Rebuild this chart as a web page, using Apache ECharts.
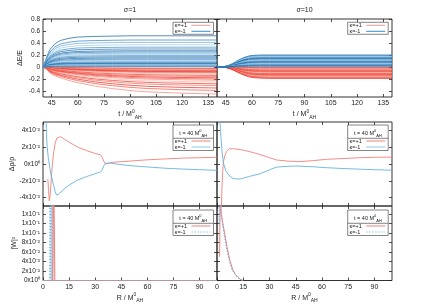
<!DOCTYPE html>
<html><head><meta charset="utf-8">
<script src="https://cdn.jsdelivr.net/npm/echarts@6/dist/echarts.min.js"></script>
<style>html,body{margin:0;padding:0;background:#fff}#c{width:436px;height:305px}</style>
</head><body><div id="c"></div>
<script>
// ---------- tick values / labels ----------
const tTicks = [45, 60, 75, 90, 105, 120, 135];
const rTicks = [0, 15, 30, 45, 60, 75, 90];
const eTicks = [-0.4, -0.2, 0, 0.2, 0.4, 0.6, 0.8];
const eTickLabels = ['-0.4', '-0.2', '0', '0.2', '0.4', '0.6', '0.8'];
const rhoTicks = [-0.04, -0.02, 0, 0.02, 0.04];
const rhoTickLabels = ['-4x10⁻²', '-2x10⁻²', '0x10⁰', '2x10⁻²', '4x10⁻²'];
const wTicks = [0, 0.02, 0.04, 0.06, 0.08, 0.10, 0.12, 0.14];
const wTickLabels = ['0x10⁰', '2x10⁻²', '4x10⁻²', '6x10⁻²', '8x10⁻²', '1x10⁻¹', '1x10⁻¹', '1x10⁻¹'];
const panelTitles = ['σ=1', 'σ=10'];
const legendNames = ['κ=+1', 'κ=-1'];

// ---------- top panels: ΔE/E vs t ----------
// sigma = 1
const timesS1 = [40, 41, 42, 43, 44, 45, 47, 50, 55, 60, 70, 80, 90, 100, 120, 140];
const profBlueS1 = [0.02, 0.14, 0.30, 0.44, 0.55, 0.63, 0.75, 0.85, 0.92, 0.96, 0.98, 0.99, 1, 1, 1, 1];
const profRedS1 = [0, 0.02, 0.08, 0.16, 0.22, 0.27, 0.33, 0.40, 0.50, 0.58, 0.71, 0.80, 0.87, 0.92, 0.97, 1];
const finalBlueS1 = [0.52, 0.45, 0.41, 0.37, 0.33, 0.30, 0.27, 0.25, 0.23, 0.21, 0.19, 0.17, 0.15, 0.13, 0.115, 0.10, 0.085, 0.07, 0.06, 0.05, 0.04, 0.03, 0.02, 0.01];
const finalRedS1 = [-0.02, -0.03, -0.04, -0.05, -0.06, -0.07, -0.08, -0.09, -0.10, -0.12, -0.14, -0.16, -0.18, -0.20, -0.22, -0.25, -0.28, -0.31, -0.35, -0.39, -0.45];
// sigma = 10
const timesS10 = [40, 44, 46, 48, 50, 52, 54, 56, 58, 60, 65, 70, 140];
const profBlueS10 = [0, 0.03, 0.10, 0.22, 0.38, 0.55, 0.70, 0.82, 0.91, 0.96, 1, 1, 1];
const profRedS10 = [0, 0.02, 0.08, 0.18, 0.32, 0.48, 0.62, 0.75, 0.85, 0.92, 0.98, 1, 1];
const finalBlueS10 = [0.20, 0.19, 0.18, 0.17, 0.16, 0.15, 0.14, 0.13, 0.12, 0.11, 0.10, 0.09, 0.08, 0.07, 0.06, 0.05, 0.04, 0.03, 0.02, 0.01];
const finalRedS10 = [-0.01, -0.02, -0.03, -0.04, -0.05, -0.06, -0.07, -0.08, -0.09, -0.10, -0.11, -0.12, -0.13, -0.14, -0.15, -0.16, -0.17, -0.18, -0.19];

// ---------- middle panels: Δρ/ρ vs R at t = 40 ----------
const rhoRedS1 = [[2.8,-0.018],[3.2,-0.032],[3.6,-0.044],[4,-0.04],[4.5,-0.026],[5,-0.011],[5.5,0.002],[6,0.012],[7,0.025],[8,0.031],[9,0.033],[10,0.0325],[12,0.030],[15,0.026],[20,0.020],[25,0.016],[30,0.0125],[33,0.011],[34,0.008],[35,0.003],[36,0.0],[37,0.0008],[40,0.002],[50,0.0035],[60,0.005],[70,0.006],[80,0.007],[90,0.0075],[100,0.008]];
const rhoBlueS1 = [[1.7,0.06],[2.0,0.035],[2.4,0.02],[3,0.008],[3.6,0],[4.5,-0.012],[5.9,-0.024],[7,-0.033],[7.8,-0.037],[9,-0.036],[10,-0.034],[12,-0.030],[15,-0.025],[20,-0.019],[25,-0.015],[30,-0.0115],[33,-0.0095],[34,-0.007],[35,-0.002],[36,0.001],[37,0.0018],[39,0.001],[42,0],[50,-0.002],[60,-0.0035],[70,-0.005],[80,-0.006],[90,-0.0068],[100,-0.0075]];
const rhoRedS10 = [[2.4,-0.06],[2.8,-0.03],[3.2,-0.01],[3.6,0.002],[4.5,0.010],[5.5,0.015],[7,0.018],[9,0.0182],[12,0.0175],[15,0.0165],[20,0.014],[25,0.011],[30,0.0075],[34,0.0048],[40,0.0035],[47,0.0028],[55,0.004],[62,0.0055],[70,0.0063],[82,0.0075],[90,0.008],[100,0.0082]];
const rhoBlueS10 = [[1.5,0.06],[2,0.04],[2.5,0.025],[3,0.012],[3.8,0],[5,-0.008],[7,-0.014],[9,-0.017],[11.4,-0.018],[14,-0.0175],[18,-0.015],[24,-0.012],[30,-0.007],[34,-0.0037],[40,-0.0028],[45,-0.0024],[55,-0.0033],[62,-0.0043],[70,-0.0052],[82,-0.0062],[90,-0.0068],[100,-0.0074]];

// ---------- bottom panels: |W|^2 vs R at t = 40 ----------
const wRedS1 = [[0,0],[5.5,0],[5.7,0.08],[5.9,0.3],[6.4,0.3],[6.6,0.08],[6.8,0],[100,0]];
const wRedS1b = [[0,0],[5.0,0],[5.2,0.3],[6.0,0.3],[6.2,0],[100,0]];
const wBlueS1 = [[0,0],[3.8,0],[4.0,0.3],[4.3,0.3],[4.5,0],[4.8,0],[5.0,0.3],[5.2,0.3],[5.4,0],[100,0]];
const wRedS10 = [[1.5,0.05],[1.65,0.12],[1.8,0.16],[2.0,0.17],[2.5,0.14],[3.1,0.125],[4.4,0.099],[5.7,0.071],[7.3,0.043],[9.1,0.022],[10.5,0.013],[12,0.0067],[13.5,0.002],[15,0]];
const wBlueS10 = [[1.2,0.12],[1.4,0.17],[1.8,0.16],[2.3,0.14],[2.9,0.125],[4.0,0.099],[5.3,0.071],[6.9,0.043],[8.7,0.022],[10.2,0.013],[11.7,0.0067],[13.2,0.002],[14.7,0]];

// ---------- styling ----------
const FONT = 'Liberation Sans';
const bluePal = ['#0d5c9e', '#2f7fbd', '#6aa9d8', '#9ccbe8', '#3f8fc9', '#1c6dad'];
const redPal = ['#e3211c', '#f04a3a', '#f78170', '#fab6a9', '#ec3427', '#f56452'];
const RED_LINE = '#f2807a', BLUE_LINE = '#66b2df';

const grids = [
  {left: 43, top: 19, width: 174, height: 78},
  {left: 217, top: 19, width: 175, height: 78},
  {left: 43, top: 122, width: 174, height: 84},
  {left: 217, top: 122, width: 175, height: 84},
  {left: 43, top: 206, width: 174, height: 74.5},
  {left: 217, top: 206, width: 175, height: 74.5}
].map(g => Object.assign({show: true, borderColor: '#333', borderWidth: 1, backgroundColor: 'transparent'}, g));

const richName = {
  a: {fontSize: 7, fontFamily: FONT, color: '#222', lineHeight: 11},
  s: {fontSize: 5, fontFamily: FONT, color: '#222', verticalAlign: 'top', lineHeight: 11},
  b: {fontSize: 5, fontFamily: FONT, color: '#222', verticalAlign: 'bottom', lineHeight: 11}
};
function lab(ticks, labels) {
  return v => { for (let i = 0; i < ticks.length; i++) if (Math.abs(ticks[i] - v) < 1e-9) return labels[i]; return ''; };
}
const xAxes = [], yAxes = [];
function addAxes(gi, xr, xt, showX, xName, yr, yt, ytl, showY, yName, yGap) {
  ['bottom', 'top'].forEach((pos, k) => {
    xAxes.push({
      type: 'value', gridIndex: gi, min: xr[0], max: xr[1], position: pos,
      axisLine: {show: false, onZero: false}, splitLine: {show: false},
      axisTick: {show: true, inside: true, length: 3, customValues: xt, lineStyle: {color: '#222', width: 0.8}},
      axisLabel: {show: showX && k === 0, customValues: xt, margin: 3, fontSize: 7, fontFamily: FONT, color: '#222'},
      name: (k === 0 && xName) ? xName : '', nameLocation: 'middle', nameGap: 12,
      nameTextStyle: {rich: richName}
    });
  });
  ['left', 'right'].forEach((pos, k) => {
    yAxes.push({
      type: 'value', gridIndex: gi, min: yr[0], max: yr[1], position: pos,
      axisLine: {show: false, onZero: false}, splitLine: {show: false},
      axisTick: {show: true, inside: true, length: 3, customValues: yt, lineStyle: {color: '#222', width: 0.8}},
      axisLabel: {show: showY && k === 0, customValues: yt, margin: 3, fontSize: 6.5, fontFamily: FONT, color: '#222', formatter: lab(yt, ytl)},
      name: (k === 0 && yName) ? yName : '', nameLocation: 'middle', nameRotate: 90, nameGap: yGap || 20,
      nameTextStyle: {fontSize: 7, fontFamily: FONT, color: '#222'}
    });
  });
}
const tName = '{a|t / M}{s|0}{b|AH}';
const rName = '{a|R / M}{s|0}{b|AH}';
const wMax = 0.157;
addAxes(0, [40, 140], tTicks, true, tName, [-0.5, 0.8], eTicks, eTickLabels, true, 'ΔE/E', 19);
addAxes(1, [40, 140], tTicks, true, tName, [-0.5, 0.8], eTicks, eTickLabels, false, '', 0);
addAxes(2, [0, 100], rTicks, false, '', [-0.05, 0.05], rhoTicks, rhoTickLabels, true, 'Δρ/ρ', 27);
addAxes(3, [0, 100], rTicks, false, '', [-0.05, 0.05], rhoTicks, rhoTickLabels, false, '', 0);
addAxes(4, [0, 100], rTicks, true, rName, [0, wMax], wTicks, wTickLabels, true, '|W|²', 23);
addAxes(5, [0, 100], rTicks, true, rName, [0, wMax], wTicks, wTickLabels, false, '', 0);

const series = [];
function line(gi, name, data, color, width, type) {
  series.push({
    type: 'line', name, xAxisIndex: 2 * gi, yAxisIndex: 2 * gi, data,
    showSymbol: false, symbol: 'none', smooth: false, clip: true, silent: true,
    lineStyle: {color, width: width || 0.8, type: type || 'solid'}, animation: false
  });
}
function fan(gi, times, prof, finals, pal, name) {
  finals.forEach((f, i) => line(gi, name, times.map((t, k) => [t, f * prof[k]]), pal[i % pal.length], 0.7));
}
fan(0, timesS1, profRedS1, finalRedS1, redPal, legendNames[0]);
fan(0, timesS1, profBlueS1, finalBlueS1, bluePal, legendNames[1]);
fan(1, timesS10, profRedS10, finalRedS10, redPal, legendNames[0]);
fan(1, timesS10, profBlueS10, finalBlueS10, bluePal, legendNames[1]);
line(2, legendNames[0], rhoRedS1, RED_LINE, 0.9);
line(2, legendNames[1], rhoBlueS1, BLUE_LINE, 0.9);
line(3, legendNames[0], rhoRedS10, RED_LINE, 0.9);
line(3, legendNames[1], rhoBlueS10, BLUE_LINE, 0.9);
line(4, legendNames[0], wRedS1b, '#f8c0ba', 0.9);
line(4, legendNames[0], wRedS1, RED_LINE, 1.1);
line(4, legendNames[1], wBlueS1, BLUE_LINE, 0.9, [1.5, 1.5]);
line(5, legendNames[0], wRedS10, RED_LINE, 1);
line(5, legendNames[1], wBlueS10, BLUE_LINE, 1, [1.5, 1.5]);

// ---------- legends (decoration) ----------
const graphic = [];
const txt = (x, y, text, extra) => Object.assign({type: 'text', x, y, silent: true,
  style: Object.assign({text, fontSize: 5.5, fontFamily: FONT, fill: '#222', align: 'left', verticalAlign: 'middle'}, extra || {})});
const seg = (x1, x2, y, color, w, dash) => ({type: 'line', silent: true,
  shape: {x1, y1: y, x2, y2: y}, style: {stroke: color, lineWidth: w, lineDash: dash || null}});
function legend(x, y, titled, redC, blueC, blueDash) {
  const w = 40.5;
  const h = titled ? 25.5 : 12;
  graphic.push({type: 'rect', silent: true, shape: {x, y, width: w, height: h}, style: {fill: '#fff', stroke: '#666', lineWidth: 0.8}});
  let r1 = y + 3, r2 = y + 9;
  if (titled) {
    graphic.push(txt(x + w / 2, y + 8, '{a|t = 40 M}{s|0}{b|AH}', {align: 'center', rich: {
      a: {fontSize: 5.5, fontFamily: FONT, fill: '#222', lineHeight: 9},
      s: {fontSize: 4, fontFamily: FONT, fill: '#222', verticalAlign: 'top', lineHeight: 9},
      b: {fontSize: 4, fontFamily: FONT, fill: '#222', verticalAlign: 'bottom', lineHeight: 9}}}));
    graphic.push(seg(x, x + w, y + 13.3, '#666', 0.8));
    r1 = y + 16; r2 = y + 22;
  }
  graphic.push(txt(x + 1.8, r1, legendNames[0]));
  graphic.push(txt(x + 1.8, r2, legendNames[1]));
  graphic.push(seg(x + 18.5, x + 37.5, r1, redC, 1));
  graphic.push(seg(x + 18.5, x + 37.5, r2, blueC, 1, blueDash));
}
legend(173, 22.3, false, '#f29a94', '#3a8cc8');
legend(347.7, 22.3, false, '#f29a94', '#3a8cc8');
legend(173, 125, true, RED_LINE, '#8cc6e8');
legend(347.7, 125, true, RED_LINE, '#8cc6e8');
legend(173, 210, true, RED_LINE, '#8cc6e8', [1.5, 1.5]);
legend(347.7, 210, true, RED_LINE, '#8cc6e8', [1.5, 1.5]);
graphic.push(txt(130, 10, panelTitles[0], {align: 'center', fontSize: 7}));
graphic.push(txt(304.5, 10, panelTitles[1], {align: 'center', fontSize: 7}));

const chart = echarts.init(document.getElementById('c'), null, {renderer: 'canvas'});
chart.setOption({
  animation: false,
  backgroundColor: '#fff',
  grid: grids, xAxis: xAxes, yAxis: yAxes, series, graphic
});
</script></body></html>
